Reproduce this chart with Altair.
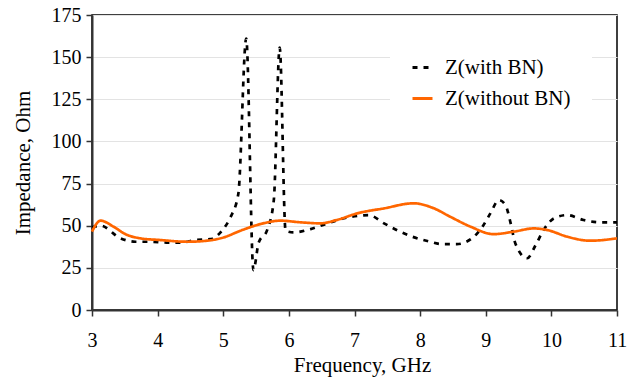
import altair as alt
import pandas as pd

# Z(with BN) - dashed black
f_with = [3.0, 3.13, 3.43, 3.66, 3.89, 4.14, 4.35, 4.58, 4.80, 5.0, 5.11, 5.23, 5.35,
          5.46, 5.54, 5.67, 5.77, 5.86, 5.95, 6.07, 6.33, 6.56, 6.84, 7.22, 7.45, 7.67,
          7.88, 8.11, 8.34, 8.56, 8.79, 8.95, 9.07, 9.20, 9.30, 9.38, 9.45, 9.63, 9.76,
          9.88, 10.04, 10.24, 10.49, 10.75, 11.0]
z_with = [49, 50, 42.6, 40.5, 40.5, 40, 40, 41.5, 42, 48, 55, 69, 161,
          23.7, 40, 47.5, 65, 155.6, 47, 46, 48, 51, 54.4, 56.3, 51.4, 46.9,
          43.5, 40.9, 39.1, 39.1, 42.5, 49.4, 57.3, 65.2, 62.3, 51.4, 39.6, 30.7, 38.5,
          47.4, 54.4, 56.3, 53.4, 52, 52]

# Z(without BN) - solid orange
f_without = [3.0, 3.13, 3.33, 3.51, 3.74, 4.04, 4.45, 4.75, 5.01, 5.26, 5.57, 5.87,
             6.18, 6.48, 6.73, 7.04, 7.45, 7.90, 8.21, 8.46, 8.77, 9.12, 9.43, 9.73,
             9.94, 10.24, 10.59, 11.0]
z_without = [46.5, 53, 49.4, 45, 42.5, 41.5, 40.5, 41.1, 43.1, 47, 51, 53,
             52, 51.4, 53.4, 57.3, 60.3, 63.3, 60.3, 55.3, 49.4, 45, 46.5, 48.4,
             47.4, 43.5, 41.1, 42.5]

series = ["Z(with BN)", "Z(without BN)"]
x_ticks = [3, 4, 5, 6, 7, 8, 9, 10, 11]
y_ticks = [0, 25, 50, 75, 100, 125, 150, 175]

df = pd.concat([
    pd.DataFrame({"f": f_with, "z": z_with, "s": series[0]}),
    pd.DataFrame({"f": f_without, "z": z_without, "s": series[1]}),
])

FONT = "Liberation Serif"

chart = alt.Chart(df).mark_line(interpolate="monotone", strokeWidth=2.7).encode(
    x=alt.X("f:Q", scale=alt.Scale(domain=[3, 11], nice=False),
            axis=alt.Axis(values=x_ticks, title="Frequency, GHz", grid=False,
                          tickSize=6, labelPadding=14, titlePadding=4, format="d",
                          titleX=270, labelFlush=False)),
    y=alt.Y("z:Q", scale=alt.Scale(domain=[0, 175], nice=False),
            axis=alt.Axis(values=y_ticks, title="Impedance, Ohm", grid=True,
                          tickSize=6, labelPadding=5, titlePadding=18)),
    color=alt.Color("s:N", scale=alt.Scale(domain=series, range=["#000000", "#FF6600"]),
                    legend=alt.Legend(title=None, orient="none", legendX=298, legendY=20,
                                      fillColor="white", padding=21, symbolType="stroke",
                                      symbolSize=400, symbolStrokeWidth=3, labelFontSize=21,
                                      labelFont=FONT, labelColor="black", rowPadding=9,
                                      labelOffset=11)),
    strokeDash=alt.StrokeDash("s:N", scale=alt.Scale(domain=series, range=[[5, 6], [1, 0]]),
                              legend=None),
    order=alt.Order("f:Q"),
).properties(
    width=525, height=295,
    autosize=alt.AutoSizeParams(type="none"),
    padding={"left": 92, "top": 15, "right": 20, "bottom": 71},
).configure_view(
    stroke="black", strokeWidth=1.5
).configure_legend(
    labelFont=FONT, labelFontSize=21, labelColor="black"
).configure_axis(
    labelFont=FONT, titleFont=FONT, labelFontSize=20, titleFontSize=21,
    labelColor="black", titleColor="black", titleFontWeight="normal",
    domainColor="#333333", domainWidth=2, tickColor="#333333", tickWidth=1.5,
    gridColor="#e3e3e3", gridWidth=1,
)

chart.save("out.html", embed_options={"renderer": "svg", "actions": False})
